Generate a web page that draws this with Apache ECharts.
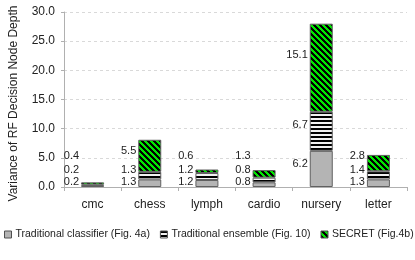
<!DOCTYPE html>
<html>
<head>
<meta charset="utf-8">
<script src="https://cdn.jsdelivr.net/npm/echarts@6/dist/echarts.min.js"></script>
<style>html,body{margin:0;padding:0;background:#fff}#c{width:415px;height:260px}</style>
</head>
<body>
<div id="c"></div>
<script>
const categories = ['cmc', 'chess', 'lymph', 'cardio', 'nursery', 'letter'];
const traditionalClassifier = [0.2, 1.3, 1.2, 0.8, 6.2, 1.3];
const traditionalEnsemble = [0.2, 1.3, 1.2, 0.8, 6.7, 1.4];
const secret = [0.4, 5.5, 0.6, 1.3, 15.1, 2.8];
const seriesNames = ['Traditional classifier (Fig. 4a)', 'Traditional ensemble (Fig. 10)', 'SECRET (Fig.4b)'];
const yTicks = { min: 0, max: 30, interval: 5 };

function stripePattern() {
  const c = document.createElement('canvas');
  c.width = 4; c.height = 4;
  const g = c.getContext('2d');
  g.fillStyle = '#f2f2f2'; g.fillRect(0, 0, 4, 4);
  g.fillStyle = '#000'; g.fillRect(0, 0, 4, 2);
  return c;
}
function diagPattern() {
  const n = 6;
  const c = document.createElement('canvas');
  c.width = n; c.height = n;
  const g = c.getContext('2d');
  const img = g.createImageData(n, n);
  for (let y = 0; y < n; y++) for (let x = 0; x < n; x++) {
    const k = (y * n + x) * 4;
    const black = ((x - y + n * 2) % n) < 3;
    img.data[k] = 0;
    img.data[k + 1] = black ? 0 : 230;
    img.data[k + 2] = 0;
    img.data[k + 3] = 255;
  }
  g.putImageData(img, 0, 0);
  return c;
}

const gridTop = 12, gridBottom = 73, H = 260;
const baseY = H - gridBottom;
const FONT = "'Liberation Sans', Arial, sans-serif";
const labelCaps = [5.5, 17, 31];

function makeLayout(i) {
  return function (p) {
    const y = Math.min(p.rect.y + p.rect.height * 0.35, baseY - labelCaps[i]);
    return { x: p.rect.x - 2, y: y, align: 'right', verticalAlign: 'middle' };
  };
}

const fills = ['#b4b4b4', { image: stripePattern(), repeat: 'repeat' }, { image: diagPattern(), repeat: 'repeat' }];
const datasets = [traditionalClassifier, traditionalEnsemble, secret];

const chart = echarts.init(document.getElementById('c'), null, { renderer: 'canvas' });
chart.setOption({
  animation: false,
  textStyle: { fontFamily: FONT },
  grid: { left: 63, right: 8, top: gridTop, bottom: gridBottom, containLabel: false },
  legend: {
    data: seriesNames,
    left: 4, top: 229, padding: 0,
    itemWidth: 7, itemHeight: 7, itemGap: 10,
    icon: 'rect',
    itemStyle: { borderColor: '#505050', borderWidth: 1 },
    textStyle: { fontFamily: FONT, fontSize: 10.5, color: '#222', padding: [0, 0, 0, -1] }
  },
  xAxis: {
    type: 'category', data: categories,
    axisLine: { lineStyle: { color: '#b0b0b0' } },
    axisTick: { show: true, length: 4, lineStyle: { color: '#b0b0b0' } },
    axisLabel: { fontFamily: FONT, fontSize: 12, color: '#222', margin: 12 }
  },
  yAxis: {
    type: 'value', min: yTicks.min, max: yTicks.max, interval: yTicks.interval,
    name: 'Variance of RF Decision Node Depth', nameLocation: 'middle', nameGap: 44,
    nameTextStyle: { fontFamily: FONT, fontSize: 12, color: '#222', padding: [0, 8, 0, 0] },
    axisLine: { show: true, lineStyle: { color: '#b0b0b0' } },
    axisTick: { show: true, length: 3, lineStyle: { color: '#b0b0b0' } },
    axisLabel: { fontFamily: FONT, fontSize: 12, color: '#222', margin: 9, formatter: v => v.toFixed(1) },
    splitLine: { lineStyle: { color: '#d9d9d9', type: [3, 3] } }
  },
  series: datasets.map((d, i) => ({
    name: seriesNames[i], type: 'bar', stack: 'total', data: d,
    barWidth: 23,
    itemStyle: { color: fills[i], borderColor: '#606060', borderWidth: 1 },
    label: { show: true, position: 'left', fontFamily: FONT, fontSize: 11, color: '#222', formatter: p => p.value.toFixed(1) },
    labelLayout: makeLayout(i)
  }))
});
</script>
</body>
</html>
